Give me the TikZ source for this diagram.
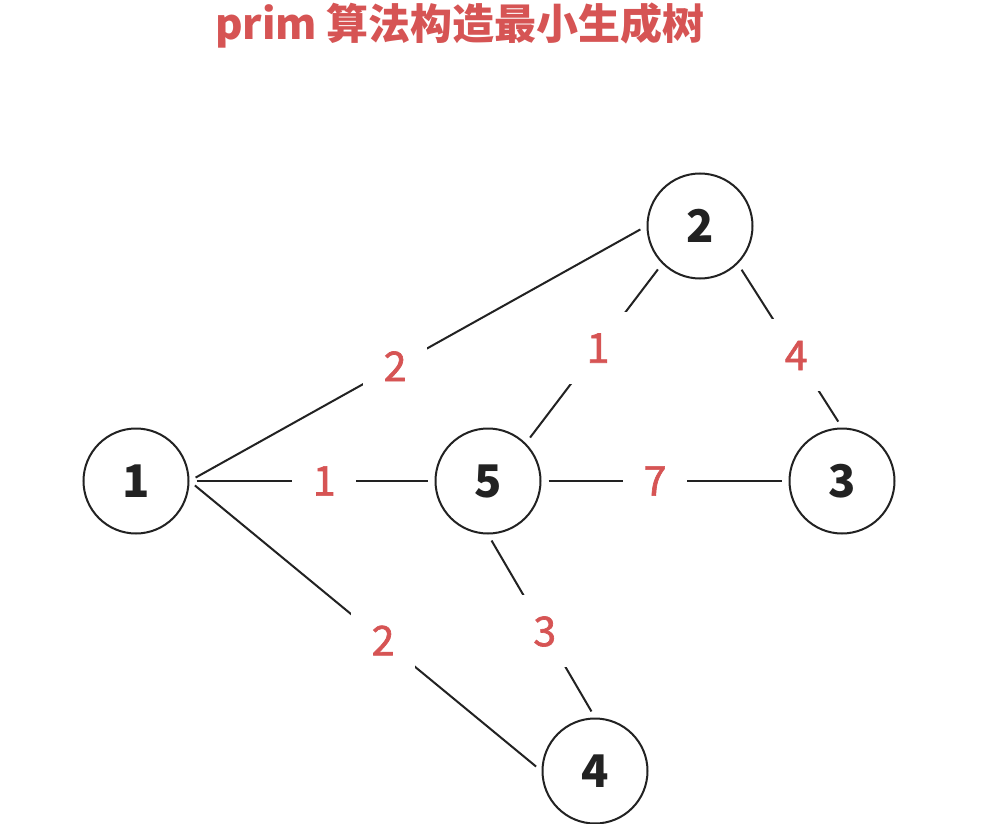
\documentclass[tikz,border=0pt]{standalone}
\usepackage{fontspec}
\setmainfont{Noto Sans CJK SC}
\newfontfamily\lblfont[FakeBold=1.6]{Noto Sans CJK SC}
\definecolor{lblred}{RGB}{214,84,84}
\definecolor{ink}{RGB}{34,34,34}
\begin{document}
\begin{tikzpicture}[x=1pt,y=-1pt,
  vert/.style={circle,draw=ink,line width=2pt,minimum size=105pt,inner sep=0pt,
    text=ink,font=\fontsize{45}{45}\selectfont\bfseries},
  edge/.style={draw=ink,line width=2pt,shorten <=7pt,shorten >=7pt},
  lbl/.style={fill=white,text=lblred,minimum width=64pt,minimum height=72pt,inner sep=0pt,
    font=\lblfont\fontsize{41}{41}\selectfont}]
\useasboundingbox[fill=white] (0,0) rectangle (988,824);
\node[text=lblred,font=\fontsize{42}{42}\selectfont\bfseries] (title) at (460,26) {prim 算法构造最小生成树};
\node[vert] (n1) at (136,481) {1};
\node[vert] (n2) at (700,226) {2};
\node[vert] (n5) at (488,481) {5};
\node[vert] (n3) at (842,481) {3};
\node[vert] (n4) at (595,771) {4};
\draw[edge] (n1.east) -- node[lbl,pos=0.45] {2} (n2.west);
\draw[edge] (n1.east) -- node[lbl,pos=0.55] {1} (n5.west);
\draw[edge] (n1.east) -- node[lbl,pos=0.55] {2} (n4.west);
\draw[edge] (n5.north east) -- node[lbl,pos=0.53] {1} (n2.south west);
\draw[edge] (n2.south east) -- node[lbl,pos=0.56] {4} (n3.north);
\draw[edge] (n5.east) -- node[lbl,pos=0.46] {7} (n3.west);
\draw[edge] (n5.south) -- node[lbl,pos=0.53] {3} (n4.north);
\end{tikzpicture}
\end{document}
